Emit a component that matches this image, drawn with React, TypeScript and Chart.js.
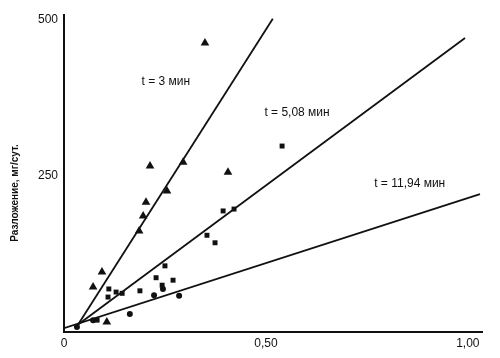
import React, { useEffect, useRef } from "react";
import { Chart, registerables } from "chart.js";

Chart.register(...registerables);

// ---- data ----
const triX = [0.349, 0.213, 0.295, 0.255, 0.203, 0.196, 0.186, 0.406, 0.094, 0.072, 0.106];
const triY = [463, 266, 272, 226, 208, 186, 162, 256, 96, 72, 16];

const sqX = [0.111, 0.109, 0.129, 0.144, 0.188, 0.228, 0.25, 0.243, 0.27, 0.354, 0.374, 0.394, 0.421, 0.54, 0.082];
const sqY = [69, 56, 64, 62, 66, 87, 106, 75, 83, 155, 143, 194, 197, 298, 19];

const circX = [0.032, 0.163, 0.223, 0.245, 0.285, 0.072];
const circY = [8, 29, 59, 69, 58, 19];

const line1X = [0.035, 0.517];
const line1Y = [12, 502];
const line2X = [0.035, 0.993];
const line2Y = [12, 471];
const line3X = [0, 1.03];
const line3Y = [6, 221];

const lineLabels = ["t = 3 мин", "t = 5,08 мин", "t = 11,94 мин"];

const xTicks = [0, 0.5, 1];
const xTickLabels = ["0", "0,50", "1,00"];
const yTicks = [250, 500];
const yTickLabels = ["250", "500"];
const yTitle = "Разложение, мг/сут.";

const zip = (xs: number[], ys: number[]) => xs.map((x, i) => ({ x, y: ys[i] }));

const FONT = "'Liberation Sans', Arial, sans-serif";
const INK = "#111";

const textPlugin = {
  id: "textPlugin",
  afterDraw(chart: any) {
    const ctx = chart.ctx;
    const xs = chart.scales.x;
    const ys = chart.scales.y;
    const pos = [
      [0.252, 401],
      [0.577, 351],
      [0.856, 237],
    ];
    ctx.save();
    ctx.fillStyle = INK;
    ctx.font = `12px ${FONT}`;
    ctx.textAlign = "center";
    ctx.textBaseline = "middle";
    lineLabels.forEach((t, i) => {
      ctx.fillText(t, xs.getPixelForValue(pos[i][0]), ys.getPixelForValue(pos[i][1]));
    });
    ctx.translate(15, 193);
    ctx.rotate(-Math.PI / 2);
    ctx.font = `bold 10px ${FONT}`;
    ctx.fillText(yTitle, 0, 0);
    ctx.restore();
  },
};

export default function App() {
  const ref = useRef<HTMLCanvasElement | null>(null);
  useEffect(() => {
    if (!ref.current) return;
    const lineDs = (xs: number[], ys: number[]) => ({
      type: "line" as const,
      data: zip(xs, ys),
      borderColor: INK,
      borderWidth: 1.8,
      pointRadius: 0,
      fill: false,
    });
    const chart = new Chart(ref.current, {
      type: "scatter",
      data: {
        datasets: [
          lineDs(line1X, line1Y),
          lineDs(line2X, line2Y),
          lineDs(line3X, line3Y),
          {
            data: zip(triX, triY),
            pointStyle: "triangle",
            pointRadius: 5,
            backgroundColor: INK,
            borderColor: INK,
            borderWidth: 0,
          },
          {
            data: zip(sqX, sqY),
            pointStyle: "rect",
            pointRadius: 3.5,
            backgroundColor: INK,
            borderColor: INK,
            borderWidth: 0,
          },
          {
            data: zip(circX, circY),
            pointStyle: "circle",
            pointRadius: 3,
            backgroundColor: INK,
            borderColor: INK,
            borderWidth: 0,
          },
        ] as any,
      },
      options: {
        animation: false,
        responsive: false,
        layout: { padding: { left: 0, right: 18, top: 15, bottom: 0 } },
        plugins: { legend: { display: false }, tooltip: { enabled: false } },
        scales: {
          x: {
            type: "linear",
            min: 0,
            max: 1.035,
            grid: { display: false, drawTicks: false },
            border: { display: true, color: INK, width: 2 },
            afterBuildTicks: (s: any) => {
              s.ticks = xTicks.map((v) => ({ value: v }));
            },
            afterFit: (s: any) => {
              s.height = 26;
            },
            ticks: {
              padding: 4,
              color: INK,
              font: { family: FONT, size: 12 },
              maxRotation: 0,
              callback: (v: any) => {
                const i = xTicks.indexOf(Number(v));
                return i >= 0 ? xTickLabels[i] : "";
              },
            },
          },
          y: {
            type: "linear",
            min: 0,
            max: 508,
            grid: { display: false, drawTicks: false },
            border: { display: true, color: INK, width: 2 },
            afterBuildTicks: (s: any) => {
              s.ticks = yTicks.map((v) => ({ value: v }));
            },
            afterFit: (s: any) => {
              s.width = 64;
            },
            ticks: {
              padding: 6,
              color: INK,
              font: { family: FONT, size: 12 },
              callback: (v: any) => {
                const i = yTicks.indexOf(Number(v));
                return i >= 0 ? yTickLabels[i] : "";
              },
            },
          },
        },
      },
      plugins: [textPlugin],
    });
    return () => chart.destroy();
  }, []);
  return (
    <div style={{ position: "fixed", left: 0, top: 0, width: 500, height: 358, background: "#fff" }}>
      <canvas ref={ref} width={500} height={358} style={{ display: "block" }} />
    </div>
  );
}
